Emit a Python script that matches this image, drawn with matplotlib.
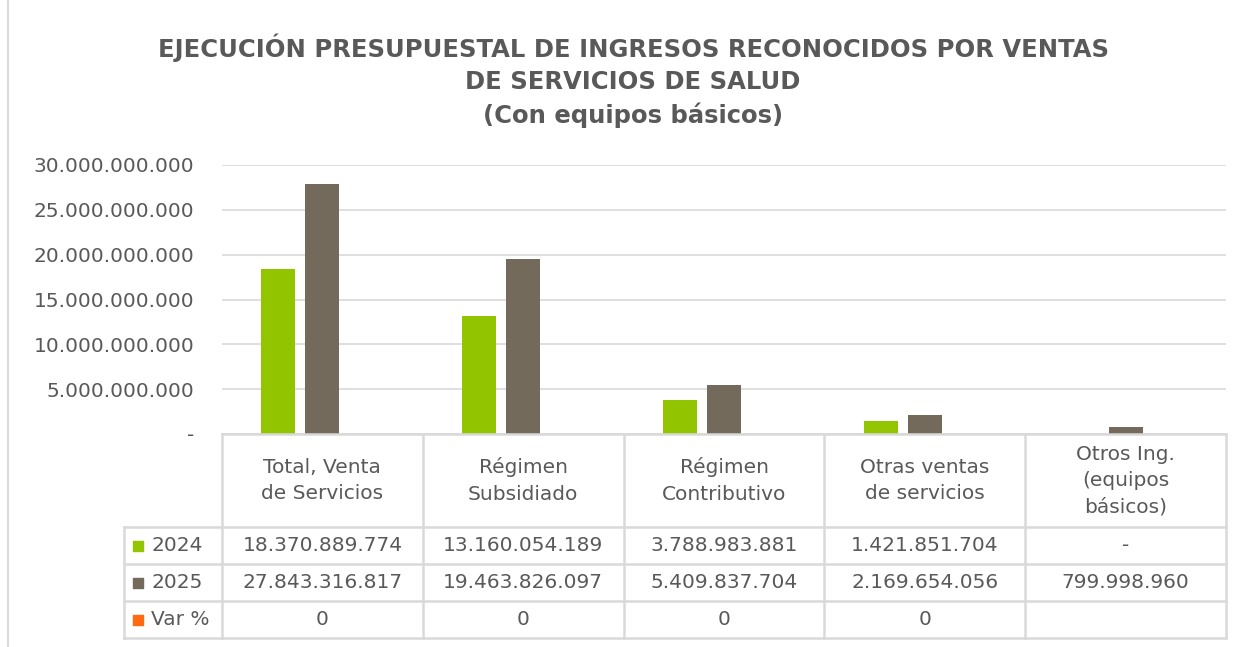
import matplotlib
matplotlib.use('Agg')
import matplotlib.pyplot as plt
import numpy as np

categorias = ['Total, Venta\nde Servicios', 'Régimen\nSubsidiado', 'Régimen\nContributivo',
              'Otras ventas\nde servicios', 'Otros Ing.\n(equipos\nbásicos)']
v2024 = [18370889774, 13160054189, 3788983881, 1421851704, 0]
v2025 = [27843316817, 19463826097, 5409837704, 2169654056, 799998960]
var_pct = [0, 0, 0, 0, None]
series = ['2024', '2025', 'Var %']
colores = ['#92C400', '#736A5C', '#FF6A13']
yticks = [0, 5e9, 10e9, 15e9, 20e9, 25e9, 30e9]

gris_txt = '#595959'
gris_lin = '#D9D9D9'
fs = 14.5
plt.rcParams['font.family'] = ['DejaVu Sans']

def fmt(v):
    if v is None:
        return ''
    if v == 0:
        return '-'
    return f'{v:,.0f}'.replace(',', '.')

W, H = 1254, 647
fig = plt.figure(figsize=(W / 100, H / 100), dpi=100)

# plot area
x0, x1, ytop, ybot = 222, 1226, 165, 434
ax = fig.add_axes([x0 / W, 1 - ybot / H, (x1 - x0) / W, (ybot - ytop) / H])
n = len(categorias)
x = np.arange(n)
bw = 34 / ((x1 - x0) / n)
paso = 44 / ((x1 - x0) / n)
ax.bar(x - paso, v2024, bw, color=colores[0], zorder=3)
ax.bar(x, v2025, bw, color=colores[1], zorder=3)
ax.bar(x + paso, [v if v is not None else 0 for v in var_pct], bw, color=colores[2], zorder=3)
ax.set_xlim(-0.5, n - 0.5)
ax.set_ylim(0, 30e9)
ax.set_yticks(yticks)
ax.set_yticklabels(['-' if t == 0 else fmt(t) for t in yticks], color=gris_txt, fontsize=fs)
ax.tick_params(axis='y', length=0, pad=20)
ax.set_xticks([])
ax.grid(axis='y', color=gris_lin, lw=1.2, zorder=0)
for s in ax.spines.values():
    s.set_visible(False)

# data table
tx0 = 124
hdr_h, row_h = 93, 37
tab_bot = ybot + hdr_h + 3 * row_h
axt = fig.add_axes([tx0 / W, 1 - tab_bot / H, (x1 - tx0) / W, (tab_bot - ybot) / H])
leg_w = (x0 - tx0) / ((x1 - x0) / n)
axt.set_xlim(-0.5 - leg_w, n - 0.5)
hdr = hdr_h / row_h
axt.set_ylim(hdr + 3, 0)
axt.axis('off')
lk = dict(color=gris_lin, lw=1.8, clip_on=False)
# horizontal lines
axt.plot([-0.5, n - 0.5], [0, 0], **lk)
for r in range(4):
    axt.plot([-0.5 - leg_w, n - 0.5], [hdr + r, hdr + r], **lk)
# vertical lines
axt.plot([-0.5 - leg_w, -0.5 - leg_w], [hdr, hdr + 3], **lk)
for c in range(n + 1):
    axt.plot([c - 0.5, c - 0.5], [0, hdr + 3], **lk)

for i, cat in enumerate(categorias):
    axt.text(i, hdr / 2, cat, ha='center', va='center', color=gris_txt, fontsize=fs, linespacing=1.48)

filas = [[fmt(v) for v in v2024], [fmt(v) for v in v2025],
         ['' if v is None else f'{v}' for v in var_pct]]
for r, (nombre, fila) in enumerate(zip(series, filas)):
    yc = hdr + r + 0.5
    axt.scatter([-0.5 - leg_w + 0.07], [yc], marker='s', s=60, color=colores[r], clip_on=False)
    axt.text(-0.5 - leg_w + 0.135, yc, nombre, ha='left', va='center', color=gris_txt, fontsize=fs)
    for i, t in enumerate(fila):
        axt.text(i, yc, t, ha='center', va='center', color=gris_txt, fontsize=fs)

# title
titulo = 'EJECUCIÓN PRESUPUESTAL DE INGRESOS RECONOCIDOS POR VENTAS\nDE SERVICIOS DE SALUD\n(Con equipos básicos)'
fig.text(633 / W, 1 - 81 / H, titulo, ha='center', va='center', fontsize=17.5, fontweight='bold',
         color=gris_txt, linespacing=1.43)

# chart border on the left
fig.add_artist(plt.Line2D([8 / W, 8 / W], [0, 1], color=gris_lin, lw=1.5))

fig.savefig('out.png', dpi=100)
